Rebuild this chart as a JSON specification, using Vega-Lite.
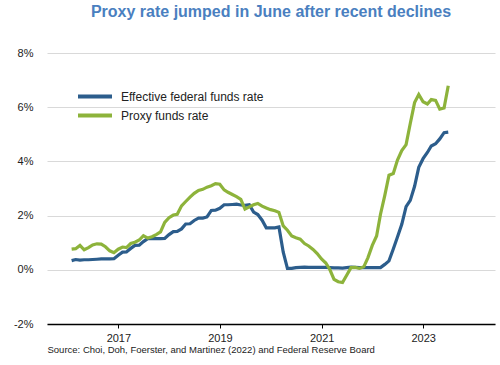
{
  "$schema": "https://vega.github.io/schema/vega-lite/v6.json",
  "width": 448,
  "height": 271,
  "autosize": "none",
  "padding": {"left": 47, "top": 53, "right": 5, "bottom": 41},
  "background": "white",
  "config": {"view": {"stroke": null}, "font": "Liberation Sans"},
  "title": {
    "text": "Proxy rate jumped in June after recent declines",
    "color": "#4a7fc0",
    "fontSize": 16,
    "fontWeight": "bold",
    "font": "Liberation Sans",
    "anchor": "middle",
    "baseline": "alphabetic",
    "offset": 14
  },
  "data": {
    "values": [
      {"date": "2016-01-31", "effr": 0.34, "proxy": 0.76},
      {"date": "2016-02-29", "effr": 0.38, "proxy": 0.78},
      {"date": "2016-03-31", "effr": 0.36, "proxy": 0.90},
      {"date": "2016-04-30", "effr": 0.37, "proxy": 0.74},
      {"date": "2016-05-31", "effr": 0.37, "proxy": 0.82},
      {"date": "2016-06-30", "effr": 0.38, "proxy": 0.92},
      {"date": "2016-07-31", "effr": 0.39, "proxy": 0.96},
      {"date": "2016-08-31", "effr": 0.40, "proxy": 0.95},
      {"date": "2016-09-30", "effr": 0.40, "proxy": 0.85},
      {"date": "2016-10-31", "effr": 0.40, "proxy": 0.70},
      {"date": "2016-11-30", "effr": 0.41, "proxy": 0.63},
      {"date": "2016-12-31", "effr": 0.54, "proxy": 0.76},
      {"date": "2017-01-31", "effr": 0.65, "proxy": 0.84},
      {"date": "2017-02-28", "effr": 0.66, "proxy": 0.82},
      {"date": "2017-03-31", "effr": 0.79, "proxy": 0.97},
      {"date": "2017-04-30", "effr": 0.90, "proxy": 1.02},
      {"date": "2017-05-31", "effr": 0.91, "proxy": 1.10},
      {"date": "2017-06-30", "effr": 1.04, "proxy": 1.26},
      {"date": "2017-07-31", "effr": 1.15, "proxy": 1.17},
      {"date": "2017-08-31", "effr": 1.16, "proxy": 1.22},
      {"date": "2017-09-30", "effr": 1.15, "proxy": 1.30},
      {"date": "2017-10-31", "effr": 1.15, "proxy": 1.40},
      {"date": "2017-11-30", "effr": 1.16, "proxy": 1.75},
      {"date": "2017-12-31", "effr": 1.30, "proxy": 1.92},
      {"date": "2018-01-31", "effr": 1.41, "proxy": 2.02},
      {"date": "2018-02-28", "effr": 1.42, "proxy": 2.05},
      {"date": "2018-03-31", "effr": 1.51, "proxy": 2.36},
      {"date": "2018-04-30", "effr": 1.69, "proxy": 2.52},
      {"date": "2018-05-31", "effr": 1.70, "proxy": 2.68},
      {"date": "2018-06-30", "effr": 1.82, "proxy": 2.82},
      {"date": "2018-07-31", "effr": 1.91, "proxy": 2.93},
      {"date": "2018-08-31", "effr": 1.91, "proxy": 2.97},
      {"date": "2018-09-30", "effr": 1.95, "proxy": 3.05},
      {"date": "2018-10-31", "effr": 2.19, "proxy": 3.10},
      {"date": "2018-11-30", "effr": 2.20, "proxy": 3.18},
      {"date": "2018-12-31", "effr": 2.27, "proxy": 3.16},
      {"date": "2019-01-31", "effr": 2.40, "proxy": 2.95},
      {"date": "2019-02-28", "effr": 2.40, "proxy": 2.86},
      {"date": "2019-03-31", "effr": 2.41, "proxy": 2.78},
      {"date": "2019-04-30", "effr": 2.42, "proxy": 2.70},
      {"date": "2019-05-31", "effr": 2.39, "proxy": 2.60},
      {"date": "2019-06-30", "effr": 2.38, "proxy": 2.24},
      {"date": "2019-07-31", "effr": 2.40, "proxy": 2.32},
      {"date": "2019-08-31", "effr": 2.13, "proxy": 2.40},
      {"date": "2019-09-30", "effr": 2.04, "proxy": 2.45},
      {"date": "2019-10-31", "effr": 1.83, "proxy": 2.35},
      {"date": "2019-11-30", "effr": 1.55, "proxy": 2.28},
      {"date": "2019-12-31", "effr": 1.55, "proxy": 2.22},
      {"date": "2020-01-31", "effr": 1.55, "proxy": 2.18},
      {"date": "2020-02-29", "effr": 1.58, "proxy": 2.12},
      {"date": "2020-03-31", "effr": 0.65, "proxy": 1.62},
      {"date": "2020-04-30", "effr": 0.05, "proxy": 1.46},
      {"date": "2020-05-31", "effr": 0.05, "proxy": 1.25},
      {"date": "2020-06-30", "effr": 0.08, "proxy": 1.18},
      {"date": "2020-07-31", "effr": 0.09, "proxy": 1.13},
      {"date": "2020-08-31", "effr": 0.10, "proxy": 0.97},
      {"date": "2020-09-30", "effr": 0.09, "proxy": 0.88},
      {"date": "2020-10-31", "effr": 0.09, "proxy": 0.75},
      {"date": "2020-11-30", "effr": 0.09, "proxy": 0.60},
      {"date": "2020-12-31", "effr": 0.09, "proxy": 0.40},
      {"date": "2021-01-31", "effr": 0.09, "proxy": 0.25},
      {"date": "2021-02-28", "effr": 0.08, "proxy": 0.02},
      {"date": "2021-03-31", "effr": 0.07, "proxy": -0.35},
      {"date": "2021-04-30", "effr": 0.07, "proxy": -0.44},
      {"date": "2021-05-31", "effr": 0.06, "proxy": -0.47},
      {"date": "2021-06-30", "effr": 0.08, "proxy": -0.20},
      {"date": "2021-07-31", "effr": 0.10, "proxy": 0.08},
      {"date": "2021-08-31", "effr": 0.09, "proxy": 0.09},
      {"date": "2021-09-30", "effr": 0.08, "proxy": 0.05},
      {"date": "2021-10-31", "effr": 0.08, "proxy": 0.11},
      {"date": "2021-11-30", "effr": 0.08, "proxy": 0.45},
      {"date": "2021-12-31", "effr": 0.08, "proxy": 0.90},
      {"date": "2022-01-31", "effr": 0.08, "proxy": 1.25},
      {"date": "2022-02-28", "effr": 0.08, "proxy": 2.05},
      {"date": "2022-03-31", "effr": 0.20, "proxy": 2.75},
      {"date": "2022-04-30", "effr": 0.33, "proxy": 3.49},
      {"date": "2022-05-31", "effr": 0.77, "proxy": 3.55},
      {"date": "2022-06-30", "effr": 1.21, "proxy": 4.05},
      {"date": "2022-07-31", "effr": 1.68, "proxy": 4.40},
      {"date": "2022-08-31", "effr": 2.33, "proxy": 4.62},
      {"date": "2022-09-30", "effr": 2.56, "proxy": 5.40},
      {"date": "2022-10-31", "effr": 3.08, "proxy": 6.17},
      {"date": "2022-11-30", "effr": 3.78, "proxy": 6.47},
      {"date": "2022-12-31", "effr": 4.10, "proxy": 6.20},
      {"date": "2023-01-31", "effr": 4.33, "proxy": 6.12},
      {"date": "2023-02-28", "effr": 4.57, "proxy": 6.28},
      {"date": "2023-03-31", "effr": 4.65, "proxy": 6.25},
      {"date": "2023-04-30", "effr": 4.83, "proxy": 5.93},
      {"date": "2023-05-31", "effr": 5.06, "proxy": 5.97},
      {"date": "2023-06-30", "effr": 5.08, "proxy": 6.79}
    ]
  },
  "transform": [{"fold": ["effr", "proxy"], "as": ["series", "value"]}],
  "mark": {"type": "line", "strokeWidth": 3.2, "clip": false},
  "encoding": {
    "x": {
      "field": "date",
      "type": "temporal",
      "scale": {
        "type": "utc",
        "domain": [
          {"year": 2015, "month": 8, "date": 7, "utc": true},
          {"year": 2024, "month": 5, "date": 31, "utc": true}
        ]
      },
      "axis": {
        "values": [
          {"year": 2017, "utc": true},
          {"year": 2019, "utc": true},
          {"year": 2021, "utc": true},
          {"year": 2023, "utc": true}
        ],
        "format": "%Y",
        "formatType": "utc",
        "grid": false,
        "domainColor": "#000000",
        "domainWidth": 1.5,
        "tickColor": "#000000",
        "tickSize": 4,
        "labelFontSize": 11,
        "labelColor": "#222222",
        "labelPadding": 4,
        "title": "Source: Choi, Doh, Foerster, and Martinez (2022) and Federal Reserve Board",
        "titleAnchor": "start",
        "titleAlign": "left",
        "titleFontWeight": "normal",
        "titleFontSize": 9.5,
        "titleColor": "#222222",
        "titlePadding": 1
      }
    },
    "y": {
      "field": "value",
      "type": "quantitative",
      "scale": {"domain": [-2, 8]},
      "axis": {
        "values": [-2, 0, 2, 4, 6, 8],
        "labelExpr": "datum.value + '%'",
        "domain": false,
        "ticks": false,
        "labelPadding": 14,
        "gridColor": "#d9d9d9",
        "labelFontSize": 11,
        "labelColor": "#222222",
        "title": null
      }
    },
    "color": {
      "field": "series",
      "type": "nominal",
      "scale": {"domain": ["effr", "proxy"], "range": ["#2c5d8c", "#8db33b"]},
      "legend": {
        "orient": "none",
        "legendX": 37.5,
        "legendY": 33,
        "title": null,
        "symbolType": "M-2,0H2",
        "symbolSize": 289,
        "symbolStrokeWidth": 4,
        "labelFontSize": 12,
        "labelColor": "#222222",
        "labelOffset": 15.5,
        "rowPadding": -2.4,
        "labelExpr": "datum.value == 'effr' ? 'Effective federal funds rate' : 'Proxy funds rate'"
      }
    }
  }
}
